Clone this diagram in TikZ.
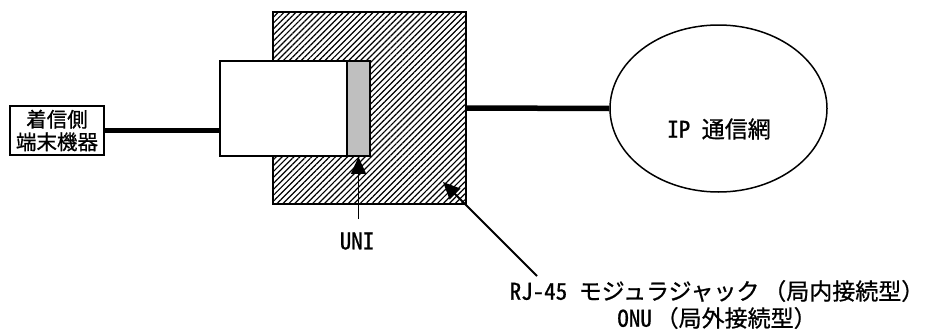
\documentclass[tikz,border=0pt]{standalone}
\usepackage{fontspec}
\setmainfont{Noto Sans CJK JP}[FakeBold=0.8]
\newfontfamily\hw{Noto Sans CJK JP}[RawFeature=+hwid,FakeBold=0.8]
\usetikzlibrary{shapes.geometric,patterns.meta,arrows.meta}
\tikzset{
  boxline/.style={draw=black,line width=1.8pt},
  thickwire/.style={line width=5.5pt},
  pointer/.style={line width=1.8pt,-{Triangle[length=17pt,width=15pt]}},
  lbl/.style={font=\fontsize{23}{27}\selectfont,inner sep=0pt,align=center},
  smalllbl/.style={font=\fontsize{20.5}{22.5}\selectfont,inner sep=0pt,align=center},
}
\begin{document}
\begin{tikzpicture}[x=1pt,y=-1pt]
\useasboundingbox (0,0) rectangle (928,332);
% hatched ONU / jack body
\node[boxline,minimum width=193pt,minimum height=192pt,inner sep=0pt,
  pattern={Lines[angle=45,distance=4.2pt,line width=1.2pt]}] (body) at (369.5,108) {};
% plug
\node[boxline,fill=white,minimum width=127pt,minimum height=95pt,inner sep=0pt] (plug) at (283.5,108.5) {};
% UNI face
\node[boxline,fill=black!25,minimum width=23pt,minimum height=95pt,inner sep=0pt] (uni) at (358.5,108.5) {};
% terminal
\node[boxline,fill=white,minimum width=94pt,minimum height=49pt,smalllbl] (term) at (57,130.5) {着信側\\端末機器};
% network
\node[draw=black,line width=1.5pt,ellipse,minimum width=217pt,minimum height=167pt,inner sep=0pt] (net) at (718.5,108.5) {};
\node[lbl] (netlbl) at (719,129) {{\hw IP }通信網};
% wires
\draw[thickwire] (term.east) -- (term.east -| plug.west);
\draw[thickwire] (body.east) -- (net.west);
% UNI pointer
\node[lbl] (unilbl) at (357,241) {\hw UNI};
\coordinate (unistart) at (358.5,219);
\draw[pointer] (unistart) -- (uni.south);
% jack pointer
\node[lbl] (jacklbl) at (717,304.5) {{\hw RJ-45 }モジュラジャック\,（局内接続型）\\{\hw ONU}\,（局外接続型）};
\coordinate (jackstart) at (537,276);
\coordinate (jacktip) at (443,182);
\draw[pointer] (jackstart) -- (jacktip);
\end{tikzpicture}
\end{document}
